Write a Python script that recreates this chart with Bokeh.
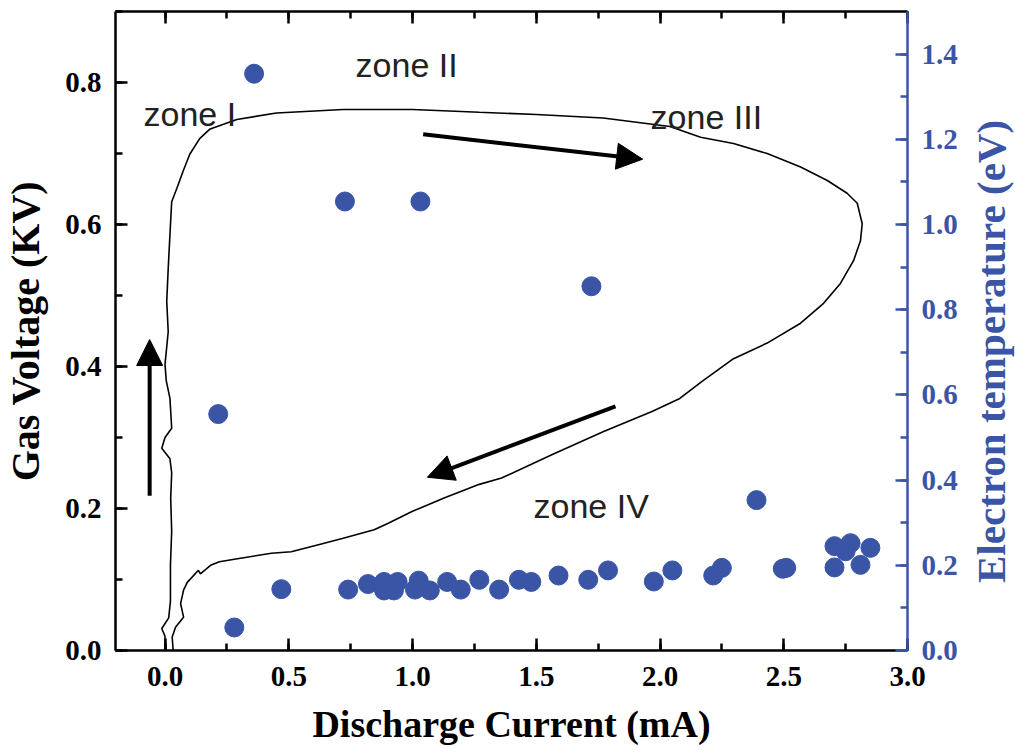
import math
from bokeh.plotting import figure
from bokeh.layouts import row
from bokeh.models import (Range1d, LinearAxis, Arrow, NormalHead, SingleIntervalTicker,
                          ColumnDataSource, CustomJSTickFormatter)
from bokeh.core.properties import value
from bokeh.embed import file_html
from bokeh.resources import INLINE

# ---- data ----
# I-V hysteresis loop (Gas Voltage, KV) vs discharge current (mA)
curve_current = [0.0, 0.0, -0.013, 0.015, 0.022, 0.022, 0.027, 0.023, 0.027, 0.02, -0.013, 0.0,
                 0.027, 0.02, 0.005, 0.0, 0.013, 0.007, 0.013, 0.02, 0.027, 0.048, 0.073, 0.10,
                 0.14, 0.18, 0.29, 0.45, 0.72, 1.0, 1.27, 1.50, 1.77, 2.04, 2.164, 2.297, 2.433,
                 2.568, 2.676, 2.756, 2.797, 2.817, 2.810, 2.782, 2.729, 2.661, 2.568, 2.433,
                 2.297, 2.17, 2.08, 1.97, 1.77,
                 1.565, 1.36, 1.27, 1.13, 1.0, 0.90, 0.845, 0.72, 0.62, 0.51, 0.43, 0.305, 0.22,
                 0.184, 0.143, 0.135, 0.09, 0.075, 0.063, 0.075, 0.043, 0.029, 0.033]
curve_voltage = [0.0, 0.02, 0.031, 0.046, 0.07, 0.12, 0.168, 0.214, 0.25, 0.27, 0.285, 0.30,
                 0.313, 0.355, 0.38, 0.403, 0.449, 0.492, 0.538, 0.586, 0.632, 0.651, 0.675, 0.699,
                 0.721, 0.734, 0.748, 0.757, 0.762, 0.762, 0.758, 0.755, 0.750, 0.738, 0.723, 0.714,
                 0.700, 0.681, 0.662, 0.644, 0.630, 0.601, 0.577, 0.549, 0.517, 0.489, 0.461,
                 0.433, 0.411, 0.379, 0.355, 0.337, 0.308,
                 0.276, 0.243, 0.234, 0.215, 0.196, 0.179, 0.170, 0.158, 0.149, 0.139,
                 0.137, 0.130, 0.125, 0.120, 0.108, 0.113, 0.096, 0.085, 0.066, 0.047, 0.033, 0.019,
                 0.0]

# Electron temperature (eV) vs discharge current (mA)
te_current = [0.36, 0.727, 1.032, 1.723, 0.215, 0.28, 2.39, 0.47, 0.74, 0.82, 0.885, 0.885,
              0.925, 0.94, 1.01, 1.025, 1.07, 1.14, 1.195, 1.27, 1.35, 1.43, 1.48, 1.59, 1.71,
              1.79, 1.975, 2.05, 2.215, 2.25, 2.496, 2.51, 2.705, 2.705, 2.75, 2.77, 2.81, 2.85]
te_value = [1.354, 1.054, 1.054, 0.855, 0.555, 0.054, 0.353, 0.144, 0.143, 0.156, 0.161, 0.141,
            0.141, 0.161, 0.143, 0.164, 0.141, 0.161, 0.143, 0.166, 0.143, 0.166, 0.161, 0.176,
            0.166, 0.188, 0.162, 0.188, 0.176, 0.194, 0.192, 0.194, 0.195, 0.245, 0.233, 0.252,
            0.201, 0.241]

zone_labels = ["zone I", "zone II", "zone III", "zone IV"]
zone_x = [-0.087, 0.770, 1.962, 1.489]
zone_y = [0.756, 0.825, 0.752, 0.204]

# arrows: (x_start, y_start, x_end, y_end)
arrows = [(-0.062, 0.218, -0.062, 0.438),
          (1.043, 0.727, 1.93, 0.692),
          (1.82, 0.344, 1.06, 0.244)]

right_title = ["Electron temperature (eV)"]

BLUE = "#3a55a6"
SERIF = "Liberation Serif"

MAIN_W = 962
p = figure(width=MAIN_W, height=752, output_backend="svg", toolbar_location=None,
           x_range=Range1d(-0.2, 3.0), y_range=Range1d(0, 0.9),
           min_border_left=115, min_border_right=MAIN_W - 907, min_border_top=11,
           min_border_bottom=102)
p.outline_line_color = None
p.xgrid.visible = False
p.ygrid.visible = False
p.background_fill_color = "white"
p.border_fill_color = "white"

p.extra_y_ranges = {"te": Range1d(0, 1.5)}

fmt = "return tick.toFixed(1);"

def style_axis(ax, color="black"):
    ax.axis_line_width = 2.5
    ax.axis_line_color = color
    ax.major_tick_line_color = color
    ax.minor_tick_line_color = color
    ax.major_tick_line_width = 2.5
    ax.minor_tick_line_width = 2.5
    ax.major_tick_in = 12
    ax.major_tick_out = 0
    ax.minor_tick_in = 7
    ax.minor_tick_out = 0
    ax.major_label_text_font = SERIF
    ax.major_label_text_font_style = "bold"
    ax.major_label_text_font_size = "29px"
    ax.major_label_text_color = color
    ax.axis_label_text_font = SERIF
    ax.axis_label_text_font_style = "bold"
    ax.axis_label_text_font_size = "38px"
    ax.axis_label_text_color = color

xax = p.xaxis[0]
xax.ticker = SingleIntervalTicker(interval=0.5, num_minor_ticks=2)
xax.formatter = CustomJSTickFormatter(code=fmt)
style_axis(xax)
xax.axis_label = "Discharge Current (mA)"
xax.major_label_standoff = 16
xax.axis_label_standoff = 14

yax = p.yaxis[0]
yax.ticker = SingleIntervalTicker(interval=0.2, num_minor_ticks=2)
yax.formatter = CustomJSTickFormatter(code=fmt)
style_axis(yax)
yax.axis_label = "Gas Voltage (KV)"
yax.axis_label_text_font_size = "40px"
yax.major_label_standoff = 14
yax.axis_label_standoff = 14

rax = LinearAxis(y_range_name="te", ticker=SingleIntervalTicker(interval=0.2, num_minor_ticks=2),
                 formatter=CustomJSTickFormatter(code=fmt))
style_axis(rax, BLUE)
rax.major_label_standoff = 14
p.add_layout(rax, "right")

tax = LinearAxis(ticker=SingleIntervalTicker(interval=0.5, num_minor_ticks=2))
style_axis(tax)
tax.major_label_text_font_size = "1px"
tax.major_label_text_color = None
tax.major_label_standoff = 0
p.add_layout(tax, "above")

# hysteresis curve
p.line(curve_current, curve_voltage, line_color="black", line_width=1.6)

# electron temperature points
src = ColumnDataSource(dict(x=te_current, y=te_value))
p.scatter("x", "y", source=src, y_range_name="te", size=19, fill_color=BLUE,
          line_color=BLUE, marker="circle")

# zone labels
p.text(zone_x, zone_y, text=zone_labels, text_font=value("Liberation Sans"),
       text_font_size="34px", text_color="#222222", text_baseline="alphabetic",
       text_align="left")

for (xs, ys, xe, ye) in arrows:
    p.add_layout(Arrow(end=NormalHead(size=26, fill_color="black", line_color="black"),
                       x_start=xs, y_start=ys, x_end=xe, y_end=ye,
                       line_width=4, line_color="black"))

# narrow strip holding the right-axis title, reading bottom to top
SIDE_W = 1015 - MAIN_W
s = figure(width=SIDE_W, height=752, output_backend="svg", toolbar_location=None,
           x_range=Range1d(0, SIDE_W), y_range=Range1d(0, 752),
           min_border=0, min_border_left=0, min_border_right=0, min_border_top=0,
           min_border_bottom=0)
s.axis.visible = False
s.grid.visible = False
s.outline_line_color = None
s.background_fill_color = "white"
s.border_fill_color = "white"
s.text([28], [352], text=right_title, angle=math.pi / 2, text_align="center",
       text_baseline="middle", text_font=value(SERIF), text_font_style="bold",
       text_font_size="41px", text_color=BLUE)

layout = row(p, s, spacing=0)
open("out.html", "w").write(file_html(layout, INLINE))
